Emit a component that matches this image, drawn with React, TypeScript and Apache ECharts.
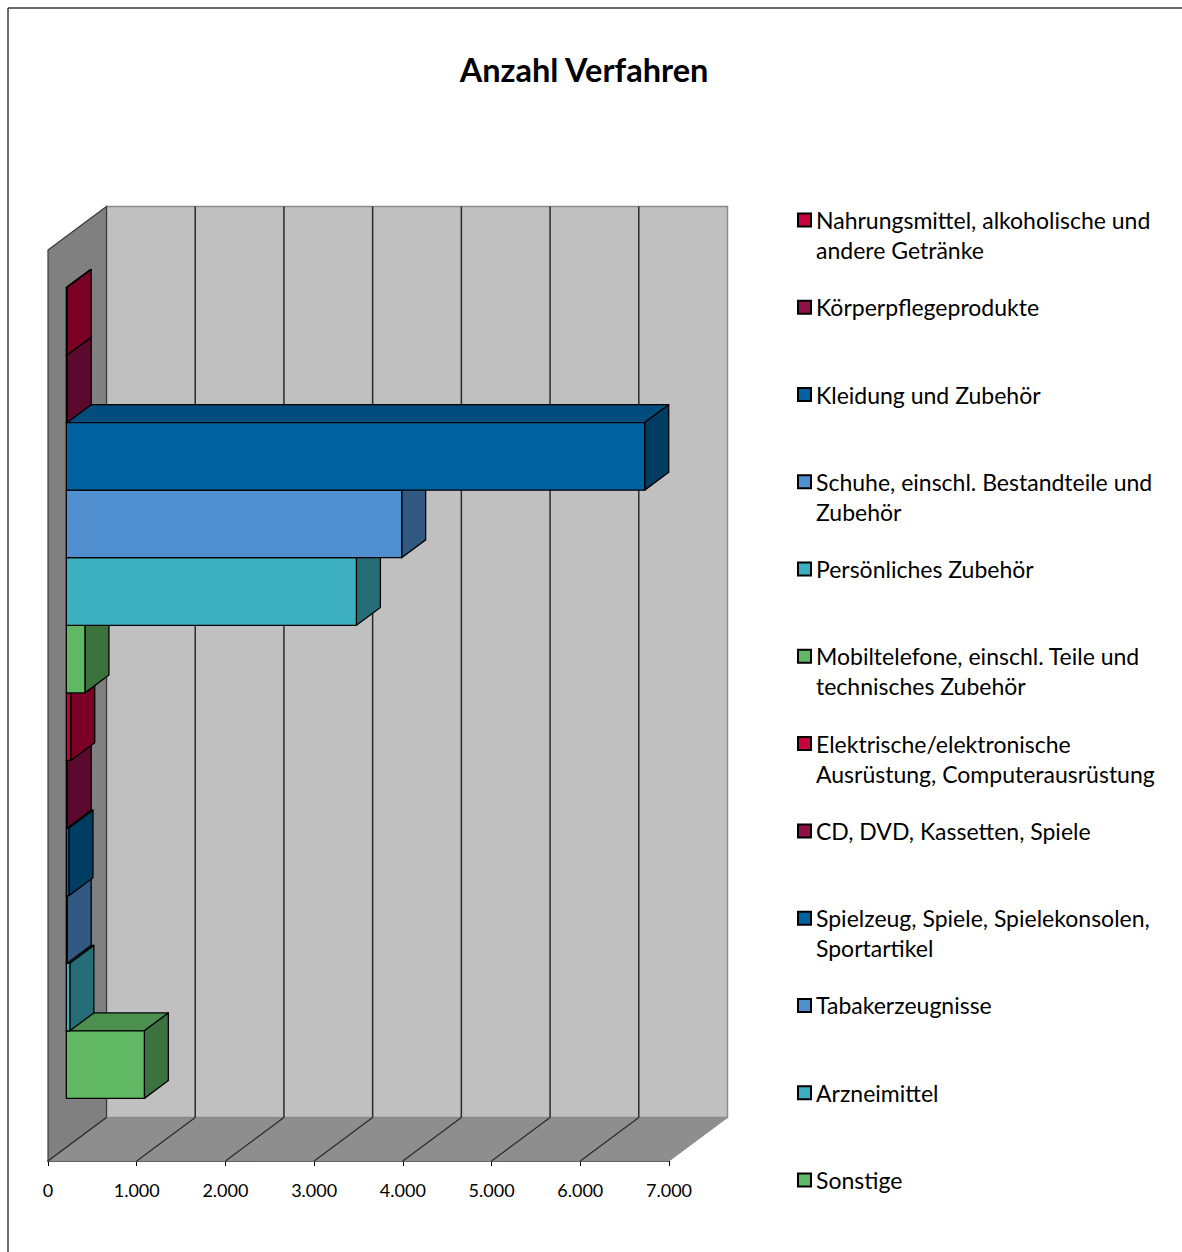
import React, { useEffect, useRef } from "react";
import * as echarts from "echarts";

const TITLE = "Anzahl Verfahren";

const CATEGORIES = [
  "Nahrungsmittel, alkoholische und andere Getränke",
  "Körperpflegeprodukte",
  "Kleidung und Zubehör",
  "Schuhe, einschl. Bestandteile und Zubehör",
  "Persönliches Zubehör",
  "Mobiltelefone, einschl. Teile und technisches Zubehör",
  "Elektrische/elektronische Ausrüstung, Computerausrüstung",
  "CD, DVD, Kassetten, Spiele",
  "Spielzeug, Spiele, Spielekonsolen, Sportartikel",
  "Tabakerzeugnisse",
  "Arzneimittel",
  "Sonstige",
];

const LEGEND_LABELS = [
  "Nahrungsmittel, alkoholische und\nandere Getränke",
  "Körperpflegeprodukte",
  "Kleidung und Zubehör",
  "Schuhe, einschl. Bestandteile und\nZubehör",
  "Persönliches Zubehör",
  "Mobiltelefone, einschl. Teile und\ntechnisches Zubehör",
  "Elektrische/elektronische\nAusrüstung, Computerausrüstung",
  "CD, DVD, Kassetten, Spiele",
  "Spielzeug, Spiele, Spielekonsolen,\nSportartikel",
  "Tabakerzeugnisse",
  "Arzneimittel",
  "Sonstige",
];

const VALUES = [10, 10, 6520, 3780, 3270, 210, 50, 10, 30, 10, 40, 880];

const FRONT_COLORS = [
  "#c8003c",
  "#921048",
  "#0062a0",
  "#5090d0",
  "#3cb0c0",
  "#60b864",
  "#c8003c",
  "#921048",
  "#0062a0",
  "#5090d0",
  "#3cb0c0",
  "#60b864",
];

const X_TICKS = [0, 1000, 2000, 3000, 4000, 5000, 6000, 7000];

// 3D projection (pixels from front plane to back wall)
const DX = 58.5;
const DY = -43.5;
const BAR_F1 = 0.313;
const BAR_F2 = 0.723;
const PAD_TOP = 51;
const PAD_BOT = 49;

function shade(hex: string, k: number): string {
  const n = parseInt(hex.slice(1), 16);
  const r = Math.round(((n >> 16) & 255) * k);
  const g = Math.round(((n >> 8) & 255) * k);
  const b = Math.round((n & 255) * k);
  return "rgb(" + r + "," + g + "," + b + ")";
}

function fmt(v: number): string {
  return String(v).replace(/\B(?=(\d{3})+(?!\d))/g, ".");
}

export default function App() {
  const ref = useRef<HTMLDivElement>(null);

  useEffect(() => {
    if (!ref.current) return;
    const chart = echarts.init(ref.current, null, { renderer: "svg" });
    const font = "Lato, 'Open Sans', sans-serif";
    const xMin = X_TICKS[0];
    const xMax = X_TICKS[X_TICKS.length - 1];

    const wallSeries: any = {
      type: "custom",
      name: "__walls",
      silent: true,
      z: 1,
      data: [[0, CATEGORIES[0]]],
      encode: { x: 0, y: 1 },
      renderItem: (params: any, api: any) => {
        const cs = params.coordSys;
        const top = cs.y - PAD_TOP;
        const bot = cs.y + cs.height + PAD_BOT;
        const x0 = api.coord([xMin, 0])[0];
        const x1 = api.coord([xMax, 0])[0];
        const children: any[] = [];
        children.push({
          type: "rect",
          shape: { x: x0 + DX, y: top + DY, width: x1 - x0, height: bot - top },
          style: { fill: "#c0c0c0", stroke: "#8a8a8a", lineWidth: 1.5 },
        });
        children.push({
          type: "polygon",
          shape: {
            points: [
              [x0, top],
              [x0 + DX, top + DY],
              [x0 + DX, bot + DY],
              [x0, bot],
            ],
          },
          style: { fill: "#808080", stroke: "#3a3a3a", lineWidth: 1.2 },
        });
        children.push({
          type: "polygon",
          shape: {
            points: [
              [x0, bot],
              [x1, bot],
              [x1 + DX, bot + DY],
              [x0 + DX, bot + DY],
            ],
          },
          style: { fill: "#8e8e8e", stroke: "#8a8a8a", lineWidth: 1 },
        });
        X_TICKS.forEach((t) => {
          const x = api.coord([t, 0])[0];
          if (t !== xMin && t !== xMax) {
            children.push({
              type: "line",
              shape: { x1: x + DX, y1: top + DY, x2: x + DX, y2: bot + DY },
              style: { stroke: "#2a2a2a", lineWidth: 1.5 },
            });
          }
          if (t !== xMax) {
            children.push({
              type: "line",
              shape: { x1: x, y1: bot, x2: x + DX, y2: bot + DY },
              style: { stroke: "#2a2a2a", lineWidth: 1.2 },
            });
          }
        });
        return { type: "group", children };
      },
    };

    const barSeries = CATEGORIES.map((name, i) => {
      const col = FRONT_COLORS[i];
      return {
        type: "custom",
        name,
        z: 10 + (CATEGORIES.length - i),
        data: [[VALUES[i], name]],
        encode: { x: 0, y: 1 },
        itemStyle: { color: col, borderColor: "#000", borderWidth: 1.5 },
        renderItem: (params: any, api: any) => {
          const v = api.value(0);
          const ci = api.value(1);
          const p0 = api.coord([0, ci]);
          const p1 = api.coord([v, ci]);
          const h = api.size([0, 1])[1];
          const yT = p0[1] - h / 2;
          const yB = p0[1] + h / 2;
          const fx = DX * BAR_F1;
          const fy = DY * BAR_F1;
          const bx = DX * BAR_F2;
          const by = DY * BAR_F2;
          const stroke = { stroke: "#000", lineWidth: 1.3, lineJoin: "round" };
          return {
            type: "group",
            children: [
              {
                type: "polygon",
                shape: {
                  points: [
                    [p0[0] + fx, yT + fy],
                    [p1[0] + fx, yT + fy],
                    [p1[0] + bx, yT + by],
                    [p0[0] + bx, yT + by],
                  ],
                },
                style: { fill: shade(col, 0.78), ...stroke },
              },
              {
                type: "polygon",
                shape: {
                  points: [
                    [p1[0] + fx, yT + fy],
                    [p1[0] + bx, yT + by],
                    [p1[0] + bx, yB + by],
                    [p1[0] + fx, yB + fy],
                  ],
                },
                style: { fill: shade(col, 0.62), ...stroke },
              },
              {
                type: "rect",
                shape: {
                  x: p0[0] + fx,
                  y: yT + fy,
                  width: p1[0] - p0[0],
                  height: yB - yT,
                },
                style: { fill: col, ...stroke },
              },
            ],
          };
        },
      };
    });

    const legendFirstY = 220;
    const legendStep = 87.27;
    const legends = CATEGORIES.map((name, i) => {
      const twoLines = LEGEND_LABELS[i].indexOf("\n") >= 0;
      return {
        data: [name],
        orient: "vertical",
        left: 797,
        top: legendFirstY + i * legendStep - (twoLines ? 45 : 15),
        padding: 0,
        itemWidth: 13,
        itemHeight: 13,
        itemGap: 0,
        icon: "rect",
        selectedMode: false,
        // a leading empty line keeps the first text line level with the icon
        formatter: () => (twoLines ? "\n" + LEGEND_LABELS[i] : LEGEND_LABELS[i]),
        textStyle: {
          fontFamily: font,
          fontSize: 23,
          lineHeight: 30,
          color: "#000",
        },
      };
    });

    chart.setOption({
      animation: false,
      backgroundColor: "#fff",
      title: {
        text: TITLE,
        left: 584,
        top: 53,
        padding: 0,
        textAlign: "center",
        textStyle: {
          fontFamily: font,
          fontWeight: "bold",
          fontSize: 32.5,
          color: "#000",
        },
      },
      legend: legends,
      grid: { left: 48, right: 513, top: 301, bottom: 140, containLabel: false },
      xAxis: {
        type: "value",
        min: xMin,
        max: xMax,
        interval: 1000,
        offset: PAD_BOT,
        axisLine: { show: true, lineStyle: { color: "#000", width: 1.5 } },
        axisTick: { show: true, length: 5, lineStyle: { color: "#000", width: 1 } },
        splitLine: { show: false },
        axisLabel: {
          formatter: (v: number) => fmt(v),
          fontFamily: font,
          fontSize: 18,
          color: "#000",
          margin: 20,
        },
      },
      yAxis: {
        type: "category",
        data: CATEGORIES,
        inverse: true,
        show: false,
      },
      graphic: [
        {
          type: "line",
          shape: { x1: 8, y1: 8, x2: 1182, y2: 8 },
          style: { stroke: "#3a3a3a", lineWidth: 1.5 },
        },
        {
          type: "line",
          shape: { x1: 8, y1: 8, x2: 8, y2: 1252 },
          style: { stroke: "#3a3a3a", lineWidth: 1.5 },
        },
      ],
      series: [wallSeries, ...barSeries],
    });

    return () => chart.dispose();
  }, []);

  return (
    <div
      ref={ref}
      style={{ position: "fixed", left: 0, top: 0, width: 1182, height: 1252 }}
    />
  );
}
